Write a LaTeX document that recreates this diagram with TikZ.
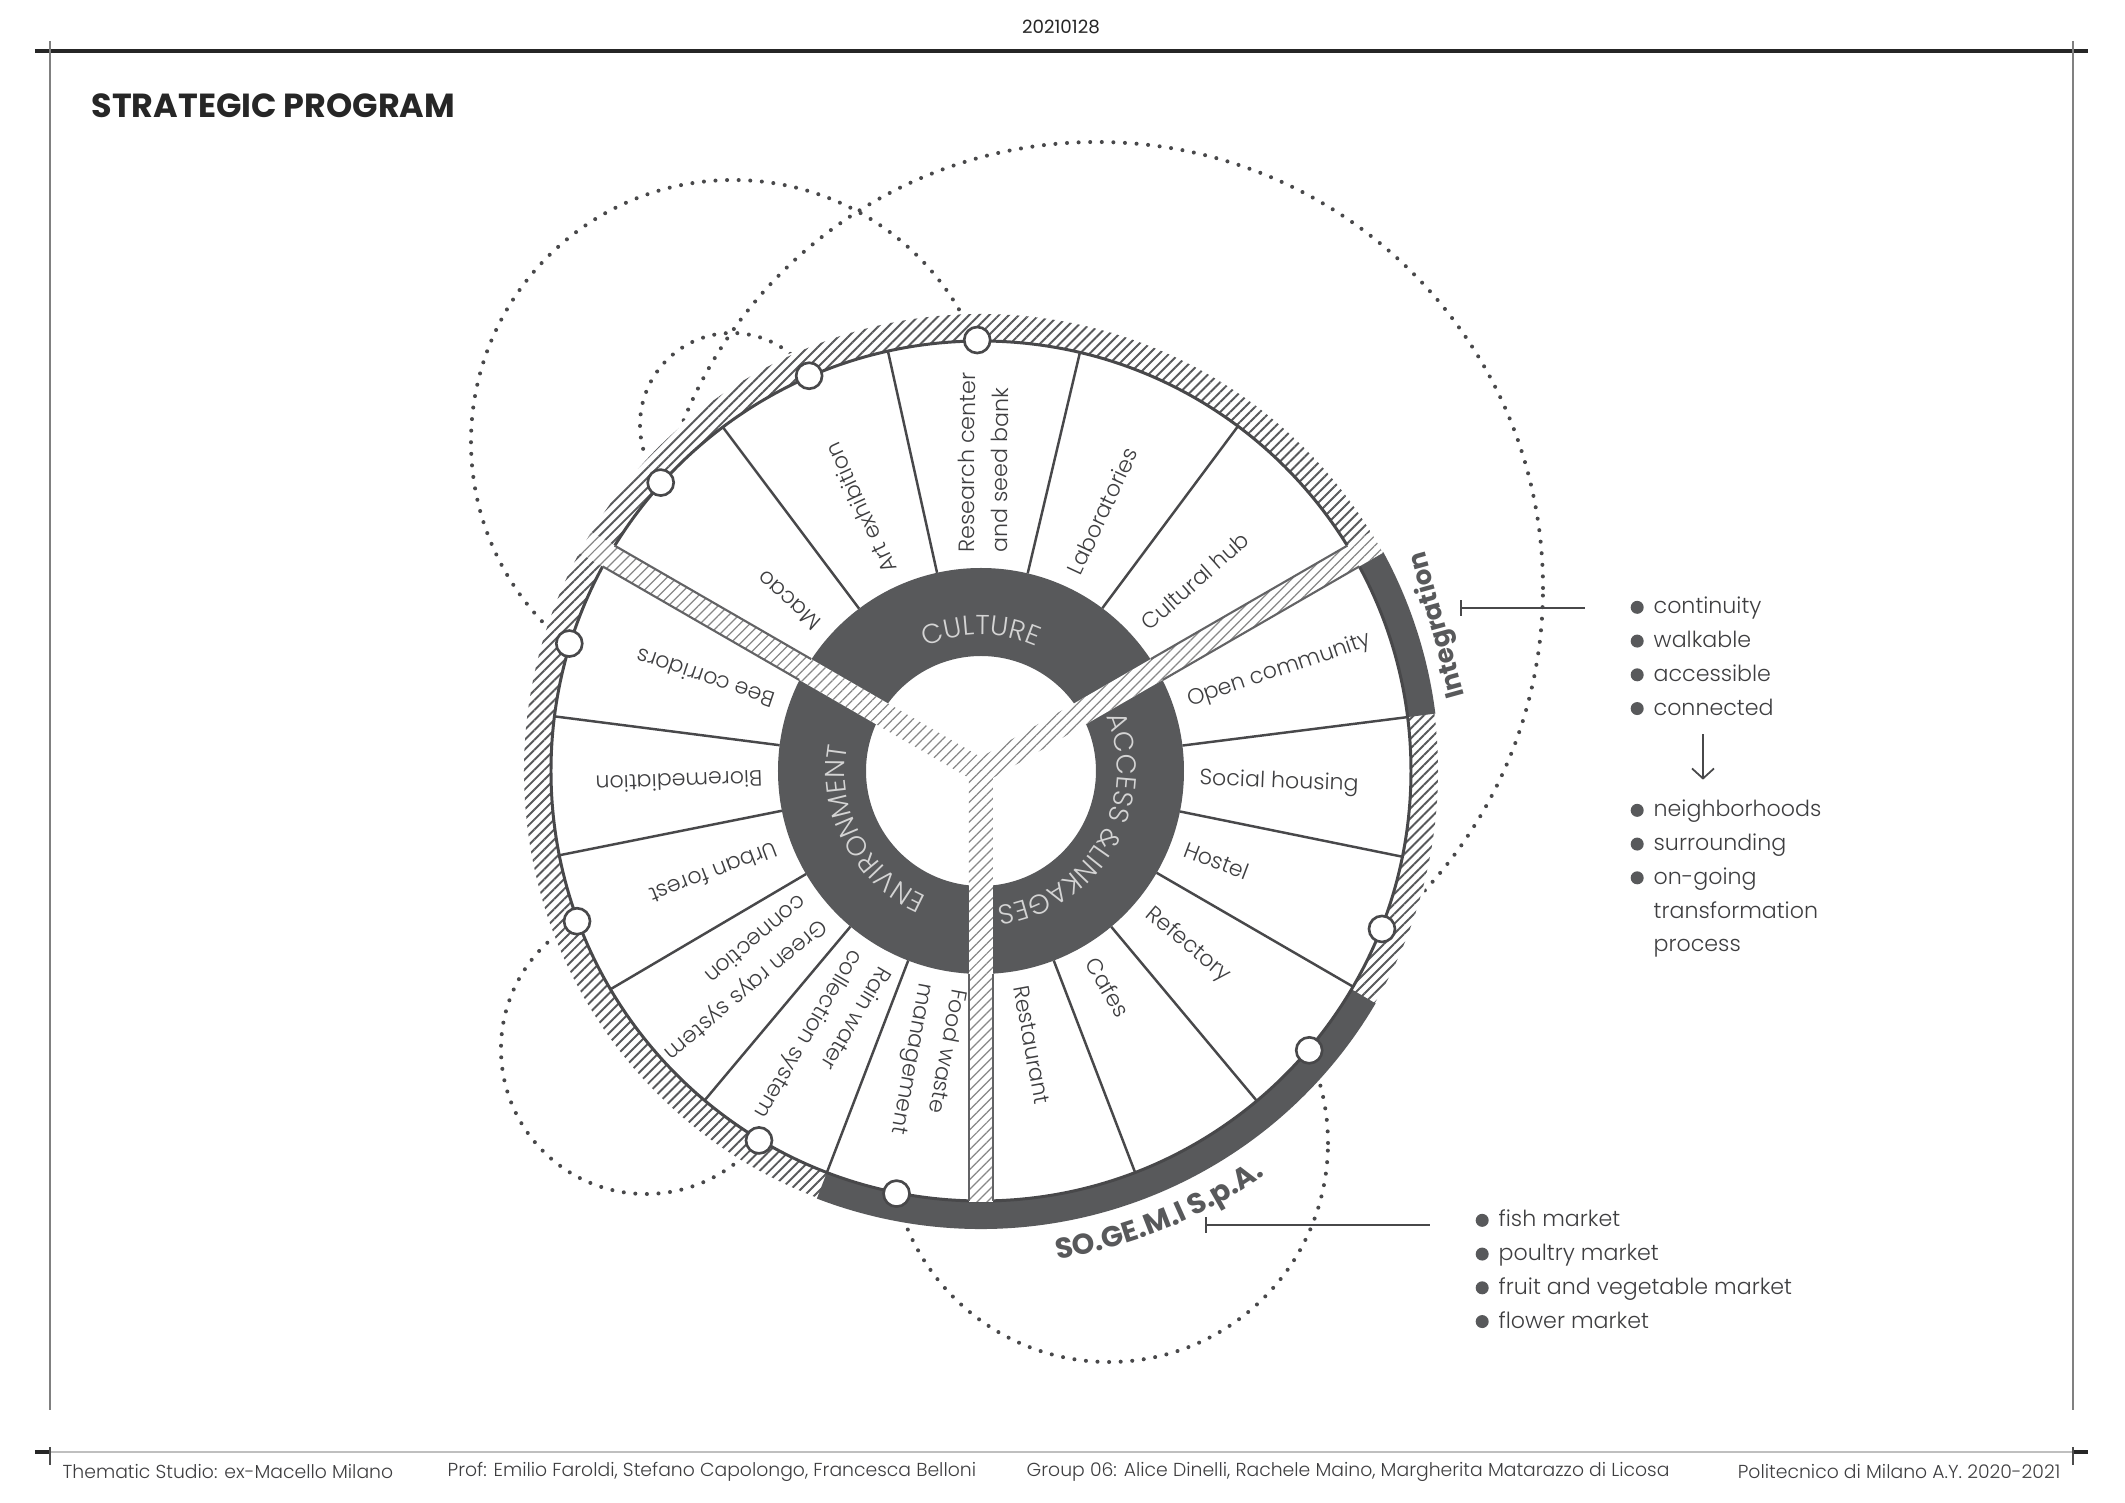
\documentclass[tikz,border=0pt]{standalone}
\usepackage{fontspec}
\setmainfont{Poppins}
\newfontfamily\thinfont{Poppins Light}
\usetikzlibrary{arrows.meta,positioning,calc,decorations.text,patterns.meta}

\definecolor{progDark}{RGB}{88,89,91}
\definecolor{progLine}{RGB}{72,72,74}
\definecolor{progText}{RGB}{62,62,64}
\definecolor{progHub}{RGB}{212,212,212}
\definecolor{progSpoke}{RGB}{135,135,135}

\newcommand\segfont{\thinfont\fontsize{6.3}{9.4}\selectfont}
\newcommand\hubfont{\thinfont\fontsize{7.8}{9}\selectfont\color{progHub}}
\newcommand\listfont{\thinfont\fontsize{6.3}{9.6}\selectfont}
\newcommand\bul{\tikz[baseline=-0.55ex]\fill[progDark] (0,0) circle (0.65mm);}

\begin{document}
\begin{tikzpicture}[x=0.1mm, y=0.1mm,
  divline/.style={draw=progLine, line width=0.7pt},
  spokeline/.style={draw=progLine!85, line width=0.6pt},
  dotline/.style={progLine, line width=1.15pt, line cap=round, dash pattern=on 0pt off 3.3pt},
  seg/.style={font=\segfont, text=progText, anchor=west, align=left, inner sep=0pt},
  hole/.style={fill=white, draw=progLine, line width=0.75pt},
  blist/.style={font=\listfont, text=progText, inner sep=0pt, anchor=base west},
  foot/.style={font=\thinfont\fontsize{5.35}{6}\selectfont, text=progText, inner sep=0pt, anchor=west},
  brk/.style={draw=progLine, line width=0.6pt, {Bar[width=1.6mm]}-, shorten >=4.5mm},
  arr/.style={draw=progLine, line width=0.5pt, -{Straight Barb[length=1mm,width=2.2mm]},
              shorten <=0.8mm, shorten >=1.3mm}
]
\useasboundingbox (-981,-732) rectangle (1144,771);

% sheet frame
\draw[line width=1.1pt, black!85] (-946,720) -- (1107,720);
\draw[line width=0.35pt, gray] (-931,730) -- (-931,-639) (1092,730) -- (1092,-639);
\draw[line width=0.4pt, gray!50] (-946,-681) -- (1107,-681);
\draw[line width=1.1pt, black!85] (-946,-681) -- (-931,-681) (1092,-681) -- (1107,-681);
\draw[line width=0.4pt, black!70] (-931,-676) -- (-931,-694) (1092,-676) -- (1092,-694);

\node[font=\fontsize{5.2}{6}\selectfont, text=black!85] (date) at (80,744) {20210128};
\node[font=\fontsize{9.5}{11}\selectfont\bfseries, text=black!85, anchor=west, inner sep=0pt]
  (title) at (-890,665) {STRATEGIC PROGRAM};

\node[foot] (foot1) at (-919,-701) {Thematic Studio: ex-Macello Milano};
\node[foot] (foot2) at (-534,-701) {Prof: Emilio Faroldi, Stefano Capolongo, Francesca Belloni};
\node[foot] (foot3) at (45,-701) {Group 06: Alice Dinelli, Rachele Maino, Margherita Matarazzo di Licosa};
\node[foot, anchor=east] (foot4) at (1080,-701) {Politecnico di Milano A.Y. 2020-2021};

% dotted links between the rim points
\foreach \cx/\cy/\r in {-248/329/262, -249/346/92, 116/183/446, -335/-278/145, 128/-372/219}
  \draw[dotline] (\cx,\cy) circle[radius=\r];

% rim: hatched band and dark bands
\fill[white] (0,0) circle[radius=459];
\fill[pattern={Lines[angle=45,distance=2pt,line width=0.55pt]}, pattern color=progDark, even odd rule]
  (0,0) circle[radius=457] (0,0) circle[radius=430];
\fill[progDark] (7.2:430) arc[start angle=7.2, end angle=28.6, radius=430]
  -- (28.6:458) arc[start angle=28.6, end angle=7.2, radius=458] -- cycle;
\fill[progDark] (249:430) arc[start angle=249, end angle=329.5, radius=430]
  -- (329.5:458) arc[start angle=329.5, end angle=249, radius=458] -- cycle;
\draw[divline, line width=0.85pt] (0,0) circle[radius=430];

% segment dividers
\foreach \a in {53.3,76.7,102.5,126.9,7.2,-11.5,-30.1,-50.1,-69,172.7,191.3,210.5,230,249}
  \draw[divline] (\a:203) -- (\a:430);

% hub
\fill[progDark, even odd rule] (0,0) circle[radius=203] (0,0) circle[radius=115];

% spokes
\foreach \a/\len in {30/457, 150/457, 270/431} {
  \fill[preaction={fill=white}, pattern={Lines[angle=45,distance=2pt,line width=0.35pt]},
        pattern color=progSpoke]
    (\a+90:12) -- ($(\a:\len)+(\a+90:12)$) -- ($(\a:\len)+(\a-90:12)$) -- (\a-90:12) -- cycle;
  \draw[spokeline] ($(\a:203)+(\a+90:12)$) -- ($(\a:430)+(\a+90:12)$)
                   ($(\a:203)+(\a-90:12)$) -- ($(\a:430)+(\a-90:12)$);
}

% rim points
\foreach \a in {90.5,113.5,138,162.8,200.4,239,258.7,319.6,338.5}
  \draw[hole] (\a:431) circle[radius=13];

% hub titles
\path[decorate, decoration={text along path, text align=center, text={|\hubfont|CULTURE}}]
  (124:136) arc[start angle=124, end angle=56, radius=136];
\path[decorate, decoration={text along path, text align=center, text={|\hubfont|ACCESS {\&}LINKAGES}}]
  (35:136) arc[start angle=35, end angle=-95, radius=136];
\path[decorate, decoration={text along path, text align=center, text={|\hubfont|ENVIRONMENT}}]
  (270:136) arc[start angle=270, end angle=146, radius=136];

% segment labels
\foreach \a/\t [count=\i] in {138.4/Macao, 114.7/Art exhibition, 89.6/{Research center\\and seed bank},
    65/Laboratories, 41.6/Cultural hub, 18.6/Open community, -2.2/Social housing, -20.8/Hostel,
    -40.1/Refectory, -59.6/Cafes, -79.5/Restaurant, 161.4/Bee corridors, 182/Bioremediation,
    200.9/Urban forest, 220.2/{Green rays system\\connection}, 239.5/{Rain water\\collection system},
    259.5/{Food waste\\management}}
  \node[seg, rotate=\a] (seg\i) at (\a:218) {\t};

% band titles
\node[font=\fontsize{7.4}{8}\selectfont\bfseries, text=progDark, rotate=105.5, inner sep=0pt]
  (integ) at (17.7:480) {Integration};
\path[decorate, decoration={text along path, text align=center,
    text={|\fontsize{8.2}{9}\selectfont\bfseries\color{progDark}|SO.GE.M.I S.p.A.}}]
  (258:494) arc[start angle=258, end angle=326, radius=494];

% side notes
\node[blist] (intA) at (649,157) {\begin{tabular}[t]{@{}l@{\hspace{1mm}}l@{}}
  \bul & continuity\\ \bul & walkable\\ \bul & accessible\\ \bul & connected\end{tabular}};
\node[blist] (intB) at (649,-46) {\begin{tabular}[t]{@{}l@{\hspace{1mm}}l@{}}
  \bul & neighborhoods\\ \bul & surrounding\\ \bul & on-going\\ & transformation\\ & process\end{tabular}};
\node[blist] (soA) at (494,-456) {\begin{tabular}[t]{@{}l@{\hspace{1mm}}l@{}}
  \bul & fish market\\ \bul & poultry market\\ \bul & fruit and vegetable market\\ \bul & flower market\end{tabular}};

\coordinate (intTick) at (479,163);
\coordinate (soTick) at (224,-454);
\draw[brk] (intTick) -- (intTick -| intA.west);
\draw[brk] (soTick) -- (soTick -| soA.west);
\draw[arr] ([xshift=7.3mm]intA.south west) -- ([xshift=7.3mm]intB.north west);
\end{tikzpicture}
\end{document}
